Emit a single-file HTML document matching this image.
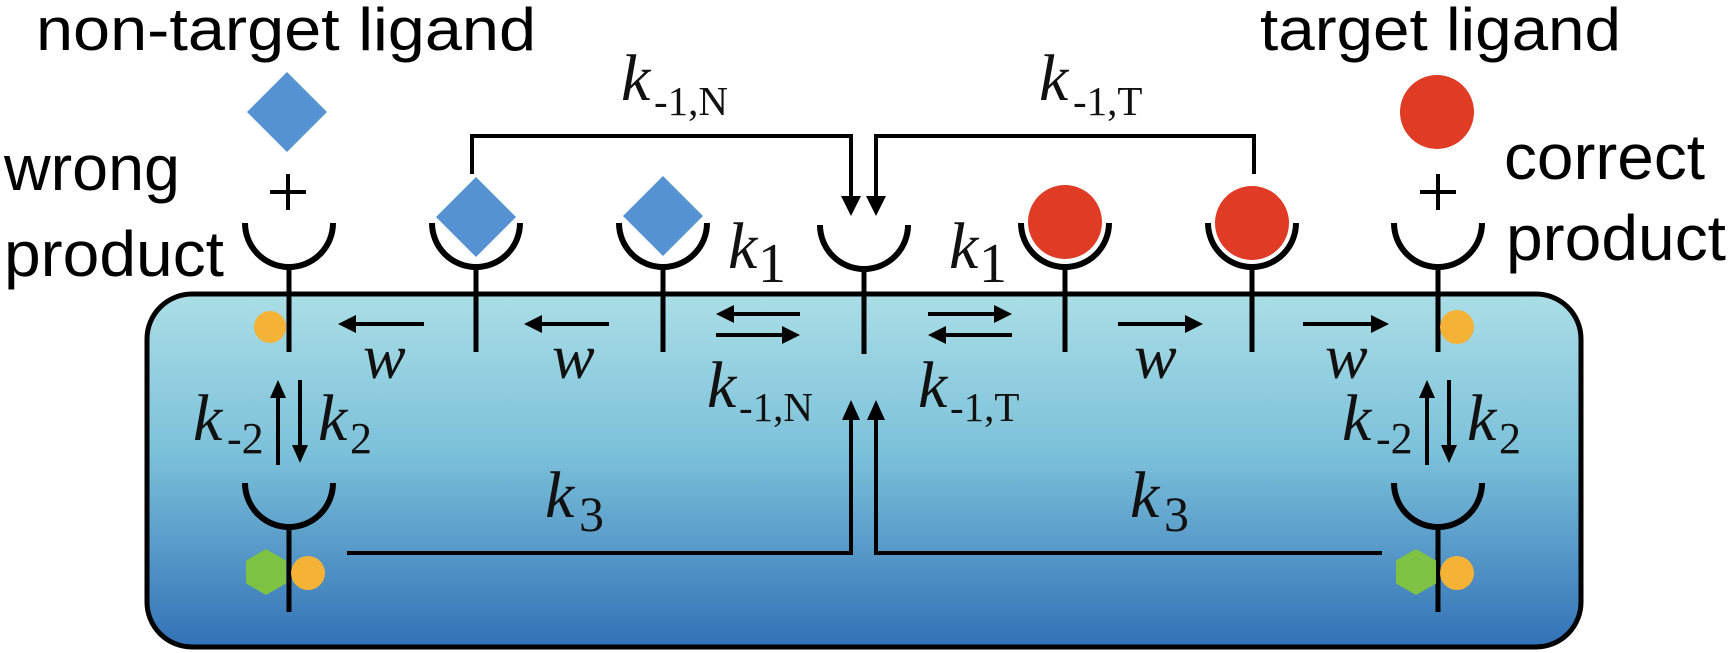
<!DOCTYPE html>
<html>
<head>
<meta charset="utf-8">
<style>
html,body{margin:0;padding:0;background:#fff;}
svg{display:block;}
.sans{font-family:"Liberation Sans",Arial,sans-serif;fill:#000;}
.k{font-family:"Liberation Serif","Times New Roman",serif;font-style:italic;fill:#111;}
.sub{font-family:"Liberation Serif","Times New Roman",serif;fill:#111;}
</style>
</head>
<body>
<svg width="1729" height="653" viewBox="0 0 1729 653" xmlns="http://www.w3.org/2000/svg">
<defs>
<linearGradient id="bg" x1="0" y1="0" x2="0" y2="1">
<stop offset="0" stop-color="#abdee6"/>
<stop offset="0.45" stop-color="#7cc1da"/>
<stop offset="1" stop-color="#3271b6"/>
</linearGradient>
</defs>

<!-- membrane box -->
<rect x="147" y="294" width="1434" height="353" rx="45" ry="45" fill="url(#bg)" stroke="#000" stroke-width="5"/>

<!-- top labels -->
<text class="sans" x="36" y="50" font-size="60" textLength="500" lengthAdjust="spacingAndGlyphs">non-target ligand</text>
<text class="sans" x="1260" y="50" font-size="60" textLength="361" lengthAdjust="spacingAndGlyphs">target ligand</text>
<text class="sans" x="4" y="190" font-size="64" textLength="176" lengthAdjust="spacingAndGlyphs">wrong</text>
<text class="sans" x="4" y="276" font-size="64" textLength="220" lengthAdjust="spacingAndGlyphs">product</text>
<text class="sans" x="1504" y="179" font-size="64" textLength="201" lengthAdjust="spacingAndGlyphs">correct</text>
<text class="sans" x="1506" y="260" font-size="64" textLength="220" lengthAdjust="spacingAndGlyphs">product</text>

<!-- free ligands -->
<polygon points="287,72 327,112 287,152 247,112" fill="#5592d2"/>
<circle cx="1437" cy="112" r="37" fill="#e03b24"/>

<!-- plus signs -->
<g stroke="#000" stroke-width="4">
<line x1="270" y1="192" x2="306" y2="192"/><line x1="288" y1="174" x2="288" y2="210"/>
<line x1="1420" y1="192" x2="1456" y2="192"/><line x1="1438" y1="174" x2="1438" y2="210"/>
</g>

<!-- cups (upper) -->
<g fill="none" stroke="#000" stroke-width="6">
<path d="M245,223 A44,44 0 0 0 333,223"/>
<path d="M432,223 A44,44 0 0 0 520,223"/>
<path d="M619,223 A44,44 0 0 0 707,223"/>
<path d="M820,225 A44,44 0 0 0 908,225"/>
<path d="M1021,223 A44,44 0 0 0 1109,223"/>
<path d="M1208,223 A44,44 0 0 0 1296,223"/>
<path d="M1394,223 A44,44 0 0 0 1482,223"/>
<!-- lower cups -->
<path d="M245,483 A44,44 0 0 0 333,483"/>
<path d="M1394,483 A44,44 0 0 0 1482,483"/>
</g>

<!-- stems -->
<g stroke="#000" stroke-width="5">
<line x1="289" y1="266" x2="289" y2="352"/>
<line x1="476" y1="266" x2="476" y2="352"/>
<line x1="663" y1="266" x2="663" y2="352"/>
<line x1="864" y1="268" x2="864" y2="354"/>
<line x1="1065" y1="266" x2="1065" y2="352"/>
<line x1="1252" y1="266" x2="1252" y2="352"/>
<line x1="1438" y1="266" x2="1438" y2="352"/>
<line x1="289" y1="526" x2="289" y2="612"/>
<line x1="1438" y1="526" x2="1438" y2="612"/>
</g>

<!-- bound ligands -->
<polygon points="476,177 516,217 476,257 436,217" fill="#5592d2"/>
<polygon points="663,176 703,216 663,256 623,216" fill="#5592d2"/>
<circle cx="1065" cy="222" r="37" fill="#e03b24"/>
<circle cx="1252" cy="223" r="37" fill="#e03b24"/>

<!-- top brackets -->
<g fill="none" stroke="#000" stroke-width="4">
<path d="M472,174 V136 H851 V199"/>
<path d="M1254,174 V136 H876 V199"/>
</g>
<g fill="#000">
<polygon points="841,196 861,196 851,216"/>
<polygon points="866,196 886,196 876,216"/>
</g>

<!-- equilibrium arrows -->
<g stroke="#000" stroke-width="4">
<line x1="800" y1="314" x2="732" y2="314"/>
<line x1="716" y1="335" x2="784" y2="335"/>
<line x1="928" y1="314" x2="996" y2="314"/>
<line x1="1012" y1="335" x2="944" y2="335"/>
<!-- w arrows -->
<line x1="424" y1="324" x2="354" y2="324"/>
<line x1="609" y1="324" x2="540" y2="324"/>
<line x1="1118" y1="324" x2="1187" y2="324"/>
<line x1="1303" y1="324" x2="1373" y2="324"/>
<!-- k2 arrows -->
<line x1="278" y1="465" x2="278" y2="396"/>
<line x1="300" y1="380" x2="300" y2="447"/>
<line x1="1427" y1="465" x2="1427" y2="396"/>
<line x1="1449" y1="380" x2="1449" y2="447"/>
</g>
<g fill="#000">
<polygon points="716,314 734,305 734,323"/>
<polygon points="800,335 782,326 782,344"/>
<polygon points="1012,314 994,305 994,323"/>
<polygon points="928,335 946,326 946,344"/>
<polygon points="338,324 356,315 356,333"/>
<polygon points="524,324 542,315 542,333"/>
<polygon points="1203,324 1185,315 1185,333"/>
<polygon points="1389,324 1371,315 1371,333"/>
<polygon points="278,380 270,398 286,398"/>
<polygon points="300,463 292,445 308,445"/>
<polygon points="1427,380 1419,398 1435,398"/>
<polygon points="1449,463 1441,445 1457,445"/>
</g>

<!-- k3 lines -->
<g fill="none" stroke="#000" stroke-width="4">
<path d="M347,553 H851 V418"/>
<path d="M1382,553 H876 V418"/>
</g>
<g fill="#000">
<polygon points="851,400 842,420 860,420"/>
<polygon points="876,400 867,420 885,420"/>
</g>

<!-- small molecules -->
<circle cx="270" cy="327" r="16" fill="#f4b336"/>
<circle cx="1457" cy="327" r="17" fill="#f4b336"/>
<polygon points="266,549 286,560.5 286,583.5 266,595 246,583.5 246,560.5" fill="#7dc243"/>
<circle cx="308" cy="573" r="17" fill="#f4b336"/>
<polygon points="1416,549 1436,560.5 1436,583.5 1416,595 1396,583.5 1396,560.5" fill="#7dc243"/>
<circle cx="1457" cy="573" r="17" fill="#f4b336"/>

<!-- rate labels -->
<text class="k" x="621" y="100" font-size="66">k</text><text class="sub" x="654" y="115" font-size="41">-1,N</text>
<text class="k" x="1039" y="100" font-size="66">k</text><text class="sub" x="1073" y="115" font-size="41">-1,T</text>

<text class="k" x="728" y="268" font-size="66">k</text><text class="sub" x="758" y="282" font-size="56">1</text>
<text class="k" x="949" y="268" font-size="66">k</text><text class="sub" x="979" y="282" font-size="56">1</text>

<text class="k" x="707" y="407" font-size="66">k</text><text class="sub" x="739" y="421" font-size="41">-1,N</text>
<text class="k" x="918" y="407" font-size="66">k</text><text class="sub" x="950" y="421" font-size="41">-1,T</text>

<text class="k" x="545" y="517" font-size="66">k</text><text class="sub" x="579" y="531" font-size="50">3</text>
<text class="k" x="1130" y="517" font-size="66">k</text><text class="sub" x="1164" y="531" font-size="50">3</text>

<text class="k" x="363" y="378" font-size="64">w</text>
<text class="k" x="552" y="378" font-size="64">w</text>
<text class="k" x="1134" y="378" font-size="64">w</text>
<text class="k" x="1325" y="378" font-size="64">w</text>

<text class="k" x="193" y="440" font-size="66">k</text><text class="sub" x="227" y="453" font-size="44">-2</text>
<text class="k" x="318" y="440" font-size="66">k</text><text class="sub" x="350" y="453" font-size="44">2</text>
<text class="k" x="1342" y="440" font-size="66">k</text><text class="sub" x="1376" y="453" font-size="44">-2</text>
<text class="k" x="1467" y="440" font-size="66">k</text><text class="sub" x="1499" y="453" font-size="44">2</text>
</svg>
</body>
</html>
